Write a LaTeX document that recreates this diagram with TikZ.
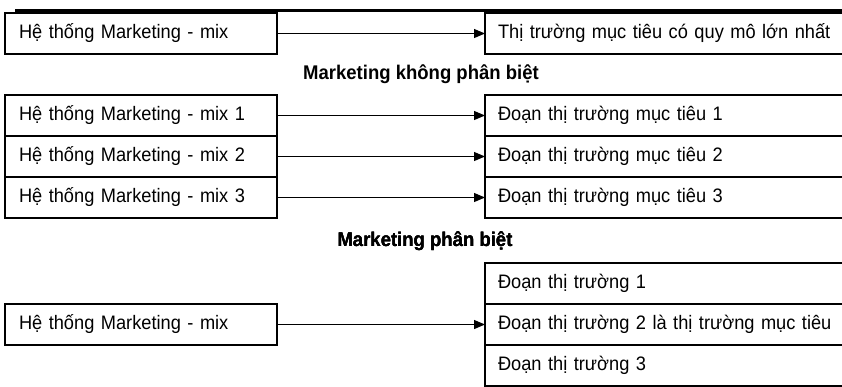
\documentclass[tikz,border=0pt]{standalone}
\usepackage{fontspec}
\setmainfont{Liberation Sans}[FakeStretch=0.935]
\usetikzlibrary{positioning,arrows.meta}
\tikzset{
  lbox/.style={draw, line width=1.2pt, anchor=north west, outer sep=0pt,
    minimum height=41pt, text width=244pt, inner xsep=14pt, inner ysep=0pt,
    align=left, font=\fontsize{19.5}{23}\selectfont},
  rbox/.style={lbox, text width=340pt, inner xsep=13pt},
  arr/.style={line width=1.2pt, -{Triangle[length=11pt,width=9pt]}},
  ttl/.style={font=\fontsize{19.8}{23}\selectfont\bfseries}
}
\def\ARR#1#2{\draw[arr] (#1.east) -- (#1.east -| #2.west);}
\begin{document}
\begin{tikzpicture}[x=1pt,y=-1pt]
\useasboundingbox (0,0) rectangle (842,386);
\draw[line width=3pt] (15,10) -- (842,10);
% khong phan biet
\node[lbox] (a) at (5,13) {Hệ thống Marketing - mix};
\node[rbox] (ta) at (485,13) {Thị trường mục tiêu có quy mô lớn nhất};
\ARR{a}{ta}
\node[ttl] (t1) at (421,74) {Marketing không phân biệt};
% phan biet
\node[lbox] (m1) at (5,95) {Hệ thống Marketing - mix 1};
\node[lbox, below=0pt of m1] (m2) {Hệ thống Marketing - mix 2};
\node[lbox, below=0pt of m2] (m3) {Hệ thống Marketing - mix 3};
\node[rbox] (d1) at (485,95) {Đoạn thị trường mục tiêu 1};
\node[rbox, below=0pt of d1] (d2) {Đoạn thị trường mục tiêu 2};
\node[rbox, below=0pt of d2] (d3) {Đoạn thị trường mục tiêu 3};
\foreach \i in {1,2,3} \ARR{m\i}{d\i}
\node[ttl] (t2) at (425,241) {Marketing phân biệt};
% tap trung
\node[rbox] (s1) at (485,263) {Đoạn thị trường 1};
\node[rbox, below=0pt of s1] (s2) {Đoạn thị trường 2 là thị trường mục tiêu};
\node[rbox, below=0pt of s2] (s3) {Đoạn thị trường 3};
\node[lbox] (b) at (5,304) {Hệ thống Marketing - mix};
\ARR{b}{s2}
\end{tikzpicture}
\end{document}
